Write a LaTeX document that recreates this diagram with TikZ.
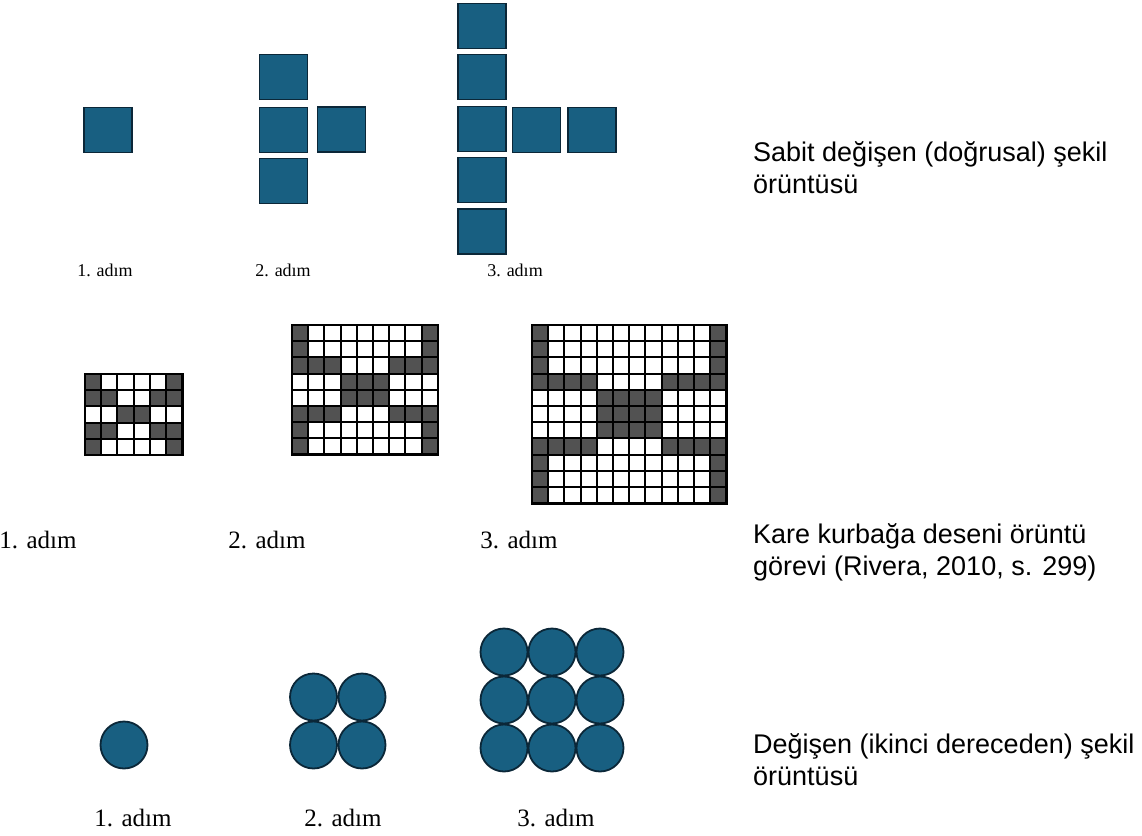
\documentclass[tikz,border=0pt]{standalone}
\usepackage{fontspec}
\setmainfont{Liberation Serif}
\newfontfamily\arialfont{Liberation Sans}
\definecolor{tileblue}{RGB}{24,95,129}
\definecolor{tileedge}{RGB}{11,39,56}
\definecolor{frogdark}{RGB}{82,82,82}
\tikzset{
  tile/.style={rectangle, draw=tileedge, fill=tileblue, line width=1.6pt, minimum width=48pt, minimum height=45pt, inner sep=0pt},
  disc/.style={circle, draw=tileedge, fill=tileblue, line width=1.8pt, minimum size=47pt, inner sep=0pt},
  smalllabel/.style={font=\fontsize{18}{20}\selectfont},
  steplabel/.style={font=\fontsize{25}{28}\selectfont},
  caption/.style={anchor=west, align=left, inner sep=0pt, font=\arialfont\fontsize{27}{32}\selectfont},
  gridline/.style={black, line width=2pt},
}
% frog grid: #1 = step, (#2,#3) = top left corner
\newcommand{\froggrid}[3]{%
  \begin{scope}[shift={(#2,#3)}, x=16.2pt, y=-16.2pt]
    \pgfmathtruncatemacro\n{#1}
    \pgfmathtruncatemacro\cols{3*#1+3}
    \pgfmathtruncatemacro\rows{3*#1+2}
    \fill[white] (0,0) rectangle (\cols,\rows);
    \fill[frogdark] (0,0) rectangle (1,\n);
    \fill[frogdark] (\cols-1,0) rectangle (\cols,\n);
    \fill[frogdark] (0,\n) rectangle (\n+1,\n+1);
    \fill[frogdark] (2*\n+2,\n) rectangle (\cols,\n+1);
    \fill[frogdark] (\n+1,\n+1) rectangle (2*\n+2,2*\n+1);
    \fill[frogdark] (0,2*\n+1) rectangle (\n+1,2*\n+2);
    \fill[frogdark] (2*\n+2,2*\n+1) rectangle (\cols,2*\n+2);
    \fill[frogdark] (0,2*\n+2) rectangle (1,\rows);
    \fill[frogdark] (\cols-1,2*\n+2) rectangle (\cols,\rows);
    \foreach \c in {0,...,\cols} \draw[gridline] (\c,0) -- (\c,\rows);
    \foreach \r in {0,...,\rows} \draw[gridline] (0,\r) -- (\cols,\r);
    \draw[gridline, line width=2.6pt] (0,0) rectangle (\cols,\rows);
  \end{scope}}
\begin{document}
\begin{tikzpicture}[x=1pt, y=-1pt]
  \useasboundingbox[fill=white] (0,0) rectangle (1142,835);

  % linear pattern
  \node[tile] (a1) at (108,130) {};
  \foreach \y [count=\i] in {77,130,181}
    \node[tile] (b\i) at (283.5,\y) {};
  \node[tile] (b4) at (341.5,129.5) {};
  \foreach \y [count=\i] in {26,77,129,180,231.5}
    \node[tile] (c\i) at (482,\y) {};
  \node[tile] (c6) at (536.5,130) {};
  \node[tile] (c7) at (592,130) {};
  \node[smalllabel] (la1) at (105,270) {1. adım};
  \node[smalllabel] (la2) at (283,270) {2. adım};
  \node[smalllabel] (la3) at (515,270) {3. adım};
  \node[caption] (sabit) at (753,168) {Sabit değişen (doğrusal) şekil\\örüntüsü};

  % frog pattern
  \froggrid{1}{85}{374}
  \froggrid{2}{292}{325}
  \froggrid{3}{532}{325}
  \node[steplabel] (lb1) at (38,540) {1. adım};
  \node[steplabel] (lb2) at (267,540) {2. adım};
  \node[steplabel] (lb3) at (519,540) {3. adım};
  \node[caption] (kare) at (753,552) {Kare kurbağa deseni örüntü\\görevi (Rivera, 2010, s. 299)};

  % quadratic pattern
  \node[disc] (d1) at (124,745) {};
  \foreach \i in {0,1}
    \foreach \j in {0,1}
      \node[disc] (e\i\j) at (313.5+48.5*\i,697+48*\j) {};
  \foreach \i in {0,1,2}
    \foreach \j in {0,1,2}
      \node[disc] (f\i\j) at (504+48*\i,652+48*\j) {};
  \node[steplabel] (lc1) at (133,818) {1. adım};
  \node[steplabel] (lc2) at (343,818) {2. adım};
  \node[steplabel] (lc3) at (556,818) {3. adım};
  \node[caption] (degisen) at (753,760) {Değişen (ikinci dereceden) şekil\\örüntüsü};
\end{tikzpicture}
\end{document}
